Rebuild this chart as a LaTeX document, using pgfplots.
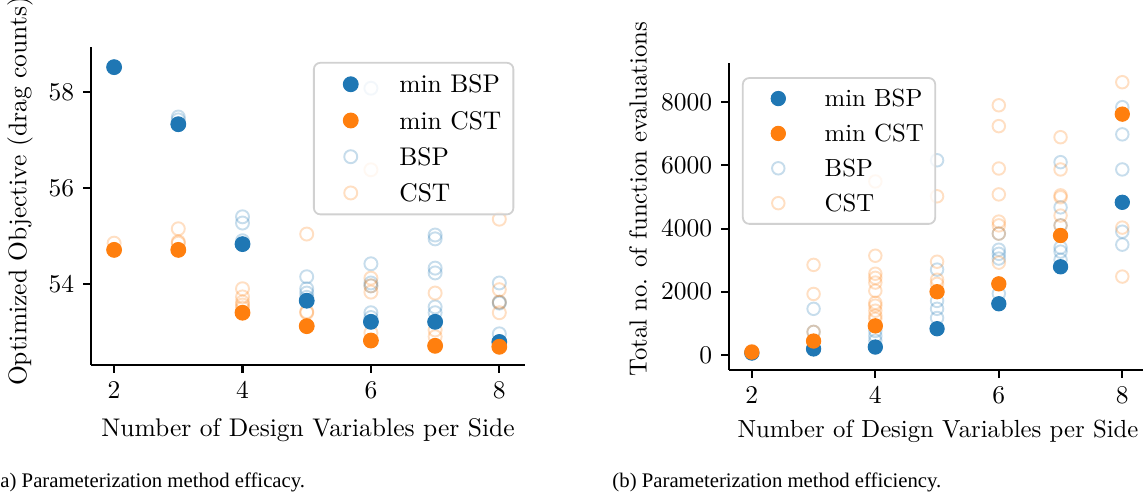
\documentclass[border=0pt]{standalone}
\usepackage{pgfplots}
\pgfplotsset{compat=1.18}
\usepackage{fontspec}
\newfontfamily\capfont{Liberation Serif}
\definecolor{c1}{HTML}{1F77B4}
\definecolor{c2}{HTML}{FF7F0E}
\pgfplotsset{
  legimgA/.style={legend image code/.code={\path (-9.4pt,0pt) (3pt,0pt); \draw[##1, fill opacity=1] plot coordinates {(0pt,3.4pt)};}},
  legimgB/.style={legend image code/.code={\path (-9.05pt,0pt) (2.85pt,0pt); \draw[##1, fill opacity=1] plot coordinates {(0pt,3.3pt)};}},
  fullB/.style={only marks, mark=*, mark size=2.9pt, mark options={draw=c1, fill=c1, line width=0.4pt}, legimgA},
  fullO/.style={only marks, mark=*, mark size=2.9pt, mark options={draw=c2, fill=c2, line width=0.4pt}, legimgA},
  openB/.style={only marks, mark=o, mark size=2.55pt, mark options={draw=c1, line width=0.75pt, draw opacity=0.25}, legimgA},
  openO/.style={only marks, mark=o, mark size=2.55pt, mark options={draw=c2, line width=0.75pt, draw opacity=0.25}, legimgA},
  mystyle/.style={
    scale only axis, anchor=south west,
    axis x line*=bottom, axis y line*=left,
    axis line style={line width=0.8pt, black},
    tick align=outside, major tick length=3.1pt,
    every tick/.style={line width=0.8pt, black},
    xtick={2,4,6,8},
    clip=false,
    legend cell align=left,
    legend style={anchor=north west, draw=black!18, line width=0.7pt, rounded corners=2.5pt,
      fill=white, fill opacity=0.8, text opacity=1, draw opacity=1,
      row sep=0pt, cells={anchor=base west}},
  },
}
\begin{document}
\begin{tikzpicture}
% ---------------- (a) efficacy ----------------
\begin{axis}[mystyle, at={(35.67pt,49.78pt)}, width=170.13pt, height=124.66pt,
  xmin=1.64, xmax=8.4, ymin=52.31, ymax=58.94, ytick={54,56,58},
  xlabel={Number of Design Variables per Side},
  ylabel={Optimized Objective (drag counts)},
  xlabel style={at={(axis description cs:0.5,-0.204)}, anchor=center},
  ylabel style={at={(axis description cs:-0.1636,0.546)}, anchor=center},
  legend style={at={(axis description cs:0.5115,0.953)},
    inner xsep=4.7pt, inner ysep=1.3pt,
    nodes={inner sep=0pt, text height=10.5pt, text depth=3.7pt},
    /tikz/every odd column/.append style={column sep=15.7pt}},
]
\addplot[openB, forget plot] coordinates {
(2,58.52)
(3,57.48)(3,57.42)(3,57.33)
(4,55.40)(4,55.27)(4,54.90)(4,54.83)
(5,54.15)(5,53.90)(5,53.81)(5,53.72)(5,53.65)
(6,58.08)(6,54.42)(6,54.02)(6,53.96)(6,53.40)(6,53.30)(6,53.21)
(7,55.02)(7,54.94)(7,54.33)(7,54.23)(7,53.52)(7,53.40)(7,53.21)
(8,54.02)(8,53.62)(8,53.60)(8,52.96)(8,52.79)
};
\addplot[openO, forget plot] coordinates {
(2,54.85)(2,54.71)
(3,55.15)(3,54.88)(3,54.85)(3,54.71)
(4,53.90)(4,53.73)(4,53.62)(4,53.56)(4,53.50)(4,53.40)
(5,55.04)(5,53.42)(5,53.40)(5,53.12)
(6,56.38)(6,54.12)(6,53.96)(6,53.83)(6,52.98)(6,52.82)
(7,53.81)(7,53.04)(7,52.90)(7,52.71)
(8,55.35)(8,53.88)(8,53.62)(8,53.40)(8,52.69)
};
\addplot[fullB] coordinates {(2,58.52)(3,57.33)(4,54.83)(5,53.65)(6,53.21)(7,53.21)(8,52.79)};
\addlegendentry{min BSP}
\addplot[fullO] coordinates {(2,54.71)(3,54.71)(4,53.40)(5,53.12)(6,52.82)(7,52.71)(8,52.69)};
\addlegendentry{min CST}
\addlegendimage{openB}
\addlegendentry{BSP}
\addlegendimage{openO}
\addlegendentry{CST}
\end{axis}
% ---------------- (b) efficiency ----------------
\begin{axis}[mystyle, at={(285.77pt,47.82pt)}, width=163.86pt, height=120.34pt,
  font=\fontsize{9.7}{11.6}\selectfont,
  xmin=1.63, xmax=8.4, ymin=-476, ymax=9238, ytick={0,2000,4000,6000,8000},
  scaled y ticks=false, yticklabel style={/pgf/number format/1000 sep={}},
  xlabel={Number of Design Variables per Side},
  ylabel={Total no. of function evaluations},
  xlabel style={at={(axis description cs:0.5,-0.199)}, anchor=center},
  ylabel style={at={(axis description cs:-0.2177,0.556)}, anchor=center},
  legend style={at={(axis description cs:0.031,0.954)},
    inner xsep=4.5pt, inner ysep=1.25pt,
    nodes={inner sep=0pt, text height=10.1pt, text depth=3.57pt},
    /tikz/every odd column/.append style={column sep=15.0pt}},
]
\addplot[openB, legimgB, mark size=2.45pt, forget plot] coordinates {
(2,60)(2,90)
(3,1460)(3,730)(3,190)
(4,760)(4,600)(4,450)(4,250)
(5,6160)(5,2700)(5,1710)(5,1460)(5,1170)(5,830)
(6,3840)(6,3330)(6,3200)(6,3050)(6,1940)(6,1620)
(7,6100)(7,4670)(7,4100)(7,3400)(7,3270)(7,3010)(7,2790)
(8,7840)(8,6980)(8,5870)(8,4830)(8,3900)(8,3490)
};
\addplot[openO, legimgB, mark size=2.45pt, forget plot] coordinates {
(2,90)(2,120)
(3,2850)(3,1930)(3,730)(3,440)
(4,5490)(4,3140)(4,2570)(4,2440)(4,2290)(4,2030)(4,1650)(4,1560)(4,1400)(4,1240)(4,1140)(4,920)
(5,5020)(5,2950)(5,2380)(5,2250)(5,2000)
(6,7900)(6,7240)(6,5900)(6,5080)(6,4220)(6,4100)(6,3840)(6,2920)(6,2250)
(7,6890)(7,5870)(7,5050)(7,4990)(7,4410)(7,4100)(7,3780)
(8,8630)(8,7620)(8,4030)(8,2480)
};
\addplot[fullB, legimgB, mark size=2.8pt] coordinates {(2,60)(3,190)(4,250)(5,830)(6,1620)(7,2790)(8,4830)};
\addlegendentry{min BSP}
\addplot[fullO, legimgB, mark size=2.8pt] coordinates {(2,90)(3,440)(4,920)(5,2000)(6,2250)(7,3780)(8,7620)};
\addlegendentry{min CST}
\addlegendimage{openB, legimgB, mark size=2.45pt}
\addlegendentry{BSP}
\addlegendimage{openO, legimgB, mark size=2.45pt}
\addlegendentry{CST}
\end{axis}
\node[anchor=west, inner sep=0pt, font=\capfont\fontsize{8.13}{9.8}\selectfont] at (-2.74pt,3.92pt) {(a) Parameterization method efficacy.};
\node[anchor=west, inner sep=0pt, font=\capfont\fontsize{8.13}{9.8}\selectfont] at (239.9pt,3.92pt) {(b) Parameterization method efficiency.};
\pgfresetboundingbox
\useasboundingbox (0,0) rectangle (448.06pt,192.86pt);
\end{tikzpicture}
\end{document}
